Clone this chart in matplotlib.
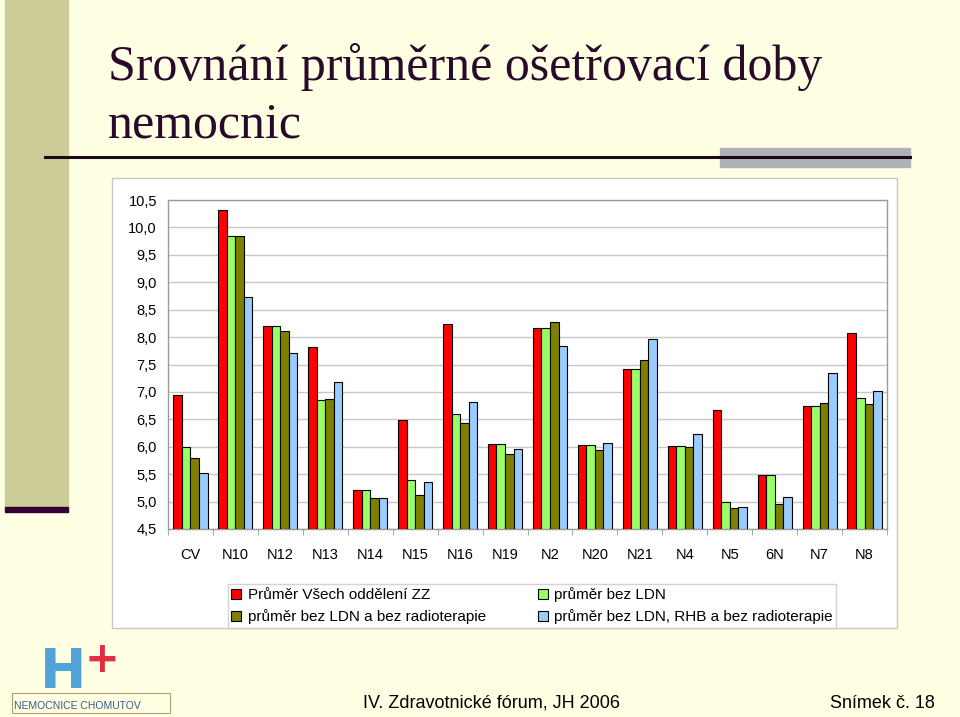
import numpy as np
import matplotlib
matplotlib.use("Agg")
import matplotlib.pyplot as plt
from matplotlib.patches import Rectangle
from matplotlib.ticker import FuncFormatter

# data
hospitals = ["CV", "N10", "N12", "N13", "N14", "N15", "N16", "N19",
             "N2", "N20", "N21", "N4", "N5", "6N", "N7", "N8"]
prumer_vse = [6.95, 10.32, 8.21, 7.82, 5.22, 6.49, 8.24, 6.05,
              8.16, 6.04, 7.42, 6.02, 6.67, 5.48, 6.74, 8.07]
bez_ldn = [5.99, 9.85, 8.21, 6.85, 5.22, 5.40, 6.60, 6.05,
           8.16, 6.04, 7.42, 6.02, 5.00, 5.48, 6.74, 6.89]
bez_ldn_radio = [5.79, 9.85, 8.12, 6.87, 5.07, 5.12, 6.44, 5.86,
                 8.27, 5.94, 7.59, 6.00, 4.88, 4.95, 6.79, 6.78]
bez_ldn_rhb_radio = [5.53, 8.74, 7.71, 7.18, 5.07, 5.35, 6.82, 5.95,
                     7.84, 6.07, 7.96, 6.24, 4.91, 5.08, 7.35, 7.01]

series = [prumer_vse, bez_ldn, bez_ldn_radio, bez_ldn_rhb_radio]
names = ["Průměr Všech oddělení ZZ", "průměr bez LDN",
         "průměr bez LDN a bez radioterapie",
         "průměr bez LDN, RHB a bez radioterapie"]
colors = ["#FF0000", "#99FF66", "#808000", "#99CCFF"]

W, H = 960, 717
bg = "#FFFFE3"
fig = plt.figure(figsize=(W / 100, H / 100), dpi=100, facecolor=bg)


def fx(px):
    return px / W


def fy(py):
    return 1 - py / H


# slide decoration
fig.patches.append(Rectangle((fx(5), fy(507)), fx(63), 507 / H,
                             transform=fig.transFigure, color="#CCCC99", zorder=0))
fig.patches.append(Rectangle((fx(5), fy(512)), fx(63), 5 / H,
                             transform=fig.transFigure, color="#330033", zorder=1))
fig.patches.append(Rectangle((fx(720), fy(167)), fx(190), 19 / H,
                             transform=fig.transFigure, color="#B0B0B8", zorder=1))
fig.lines.append(plt.Line2D([fx(45), fx(910)], [fy(157), fy(157)],
                            transform=fig.transFigure, color="#1A0A1A", lw=2.2, zorder=2))

fig.text(fx(108), fy(80), "Srovnání průměrné ošetřovací doby", fontsize=36,
         family="Liberation Serif", color="#2A0A2A", va="baseline")
fig.text(fx(108), fy(137), "nemocnic", fontsize=36,
         family="Liberation Serif", color="#2A0A2A", va="baseline")

# white chart box
fig.patches.append(Rectangle((fx(112), fy(628)), fx(897 - 112), (628 - 178) / H,
                             transform=fig.transFigure, facecolor="white",
                             edgecolor="#C8C8C8", lw=1, zorder=1))

ax = fig.add_axes([fx(168), fy(529), fx(887 - 168), (529 - 200) / H])
ax.set_facecolor("white")
ax.set_zorder(3)

x = np.arange(len(hospitals))
bw = 0.19
handles = []
for i, (vals, c, n) in enumerate(zip(series, colors, names)):
    b = ax.bar(x + (i - 1.5) * bw, np.array(vals) - 4.5, bw, bottom=4.5,
               color=c, edgecolor="black", linewidth=0.8, label=n, zorder=3)
    handles.append(b)

ax.set_xlim(-0.5, len(hospitals) - 0.5)
ax.set_ylim(4.5, 10.5)
ax.set_yticks(np.arange(4.5, 10.51, 0.5))
ax.yaxis.set_major_formatter(FuncFormatter(lambda v, p: f"{v:.1f}".replace(".", ",")))
ax.yaxis.grid(True, color="#C8C8C8", lw=1, zorder=0)
ax.set_axisbelow(True)

ax.set_xticks(x)
ax.set_xticklabels(hospitals)
ax.set_xticks(np.arange(-0.5, len(hospitals)), minor=True)
ax.tick_params(axis="x", which="major", length=0, pad=14, labelsize=10.5)
ax.tick_params(axis="x", which="minor", length=4, color="#999999")
ax.tick_params(axis="y", length=0, pad=8, labelsize=10.5)
for lab in ax.get_xticklabels() + ax.get_yticklabels():
    lab.set_family("Liberation Sans")
for s in ax.spines.values():
    s.set_color("#999999")
    s.set_linewidth(1)

leg = fig.legend([handles[0], handles[2], handles[1], handles[3]],
                 [names[0], names[2], names[1], names[3]],
                 ncol=2, loc="upper left", bbox_to_anchor=(fx(220), fy(576)),
                 frameon=True, fancybox=False, edgecolor="#C8C8C8",
                 prop={"family": "Liberation Sans", "size": 11},
                 handlelength=0.65, handleheight=0.65, handletextpad=0.4,
                 columnspacing=3.4, labelspacing=0.45, borderpad=0.25)
leg.set_zorder(4)

# footer
fig.text(fx(363), fy(708), "IV. Zdravotnické fórum, JH 2006", fontsize=13,
         family="Liberation Sans", va="baseline")
fig.text(fx(830), fy(708), "Snímek č. 18", fontsize=13,
         family="Liberation Sans", va="baseline")

# simplified logo
fig.text(fx(40), fy(688), "H", fontsize=40, weight="bold", color="#4FA3D9",
         family="DejaVu Sans", va="baseline")
fig.text(fx(85), fy(672), "+", fontsize=30, weight="bold", color="#E03040",
         family="DejaVu Sans", va="baseline")
fig.text(fx(14), fy(709), "NEMOCNICE CHOMUTOV", fontsize=7.5, color="#3A5A8A",
         family="Liberation Sans", va="baseline")
fig.patches.append(Rectangle((fx(12), fy(713)), fx(158), 20 / H,
                             transform=fig.transFigure, facecolor="none",
                             edgecolor="#B0A070", lw=0.8, zorder=1))

fig.savefig("out.png", dpi=100, facecolor=bg)
